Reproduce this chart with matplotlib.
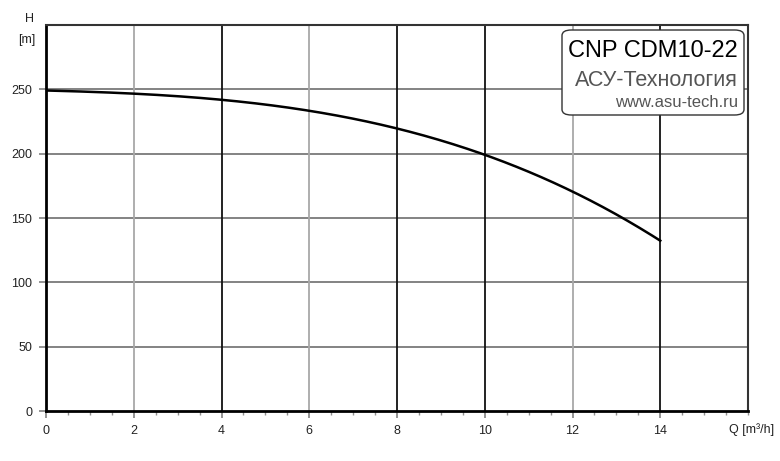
import matplotlib
matplotlib.use("Agg")
import matplotlib.pyplot as plt
import numpy as np
from matplotlib.patches import FancyBboxPatch

# Data
q_vals = [0, 1, 2, 3, 4, 5, 6, 7, 8, 9, 10, 11, 12, 13, 14]
h_vals = [249, 248, 246.8, 244.8, 242, 238, 233.5, 227, 219.5, 210, 199, 186, 171, 153, 132]
x_ticks = [0, 2, 4, 6, 8, 10, 12, 14]
y_ticks = [0, 50, 100, 150, 200, 250]
dark_x_grid = [4, 8, 10, 14]
light_x_grid = [2, 6, 12]
title_text = "CNP CDM10-22"
brand_text = "АСУ-Технология"
url_text = "www.asu-tech.ru"

plt.rcParams['font.family'] = ['Liberation Sans', 'DejaVu Sans']

fig = plt.figure(figsize=(7.8, 4.61), dpi=100)
ax = fig.add_axes([46/780, 50/461, 702/780, 386/461])
ax.set_xlim(0, 16)
ax.set_ylim(0, 300)

for y in y_ticks[1:]:
    ax.axhline(y, color='#7a7a7a', lw=1.3, zorder=1)
for x in light_x_grid:
    ax.axvline(x, color='#a8a8a8', lw=1.3, zorder=1)
for x in dark_x_grid:
    ax.axvline(x, color='#111111', lw=1.3, zorder=1)

# smooth curve through read points
qs = np.array(q_vals, float)
hs = np.array(h_vals, float)
coef = np.polyfit(qs, hs, 3)
qq = np.linspace(qs[0], qs[-1], 300)
ax.plot(qq, np.polyval(coef, qq), color='black', lw=1.8, zorder=3)

ax.set_xticks(x_ticks)
ax.set_yticks(y_ticks)
ax.set_xticks(np.arange(0, 16.01, 0.5), minor=True)
ax.tick_params(axis='both', which='major', direction='out', length=5, width=1.2,
               color='#808080', labelsize=9, labelcolor='#222222', pad=5)
ax.tick_params(axis='x', which='minor', direction='out', length=3, width=1, color='#909090')
ax.tick_params(axis='y', which='minor', left=False)

for s in ['left', 'bottom']:
    ax.spines[s].set_color('black')
    ax.spines[s].set_linewidth(2)
for s in ['top', 'right']:
    ax.spines[s].set_color('#333333')
    ax.spines[s].set_linewidth(1.5)

fig.text(30/780, 1 - 19/461, "H", ha='center', va='center', fontsize=9, color='#222222')
fig.text(27/780, 1 - 40/461, "[m]", ha='center', va='center', fontsize=9, color='#222222')
fig.text(774/780, 1 - 430/461, "Q [m³/h]", ha='right', va='center', fontsize=9, color='#222222')

# Info box
box = FancyBboxPatch((562/780, 1 - 115/461), 182/780, 85/461,
                     boxstyle="round,pad=0,rounding_size=0.012",
                     transform=fig.transFigure, facecolor='white',
                     edgecolor='#333333', lw=1.0, zorder=5)
fig.patches.append(box)
fig.text(738/780, 1 - 51/461, title_text, ha='right', va='center', fontsize=17, color='black', zorder=6)
fig.text(738/780, 1 - 81/461, brand_text, ha='right', va='center', fontsize=15.5, color='#555555', zorder=6)
fig.text(738/780, 1 - 102/461, url_text, ha='right', va='center', fontsize=12, color='#555555', zorder=6)

fig.savefig("out.png", dpi=100)
